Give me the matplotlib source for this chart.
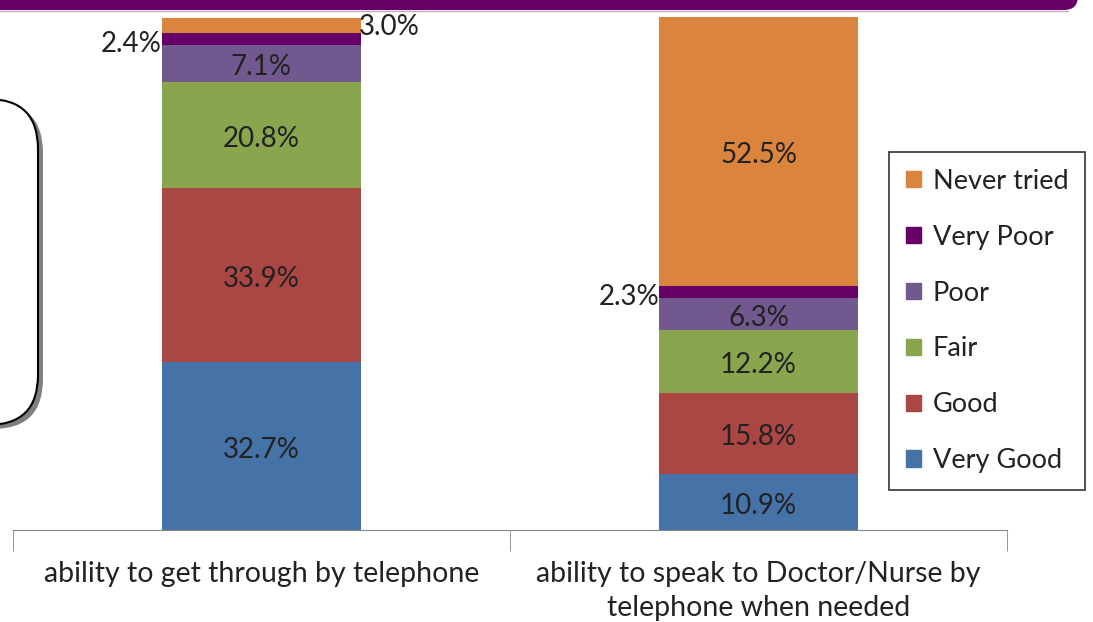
import matplotlib.pyplot as plt
import matplotlib.patches as mpatches
from matplotlib.patches import FancyBboxPatch
import numpy as np

plt.rcParams['font.family'] = ['Lato', 'DejaVu Sans']

categories = ['ability to get through by telephone',
              'ability to speak to Doctor/Nurse by\ntelephone when needed']
series = ['Very Good', 'Good', 'Fair', 'Poor', 'Very Poor', 'Never tried']
values = {
    'Very Good':   [32.7, 10.9],
    'Good':        [33.9, 15.8],
    'Fair':        [20.8, 12.2],
    'Poor':        [7.1, 6.3],
    'Very Poor':   [2.4, 2.3],
    'Never tried': [3.0, 52.5],
}
colors = {
    'Very Good': '#4572A7',
    'Good': '#AA4643',
    'Fair': '#89A54E',
    'Poor': '#71588F',
    'Very Poor': '#660066',
    'Never tried': '#DB843D',
}
txtc = '#222222'

fig = plt.figure(figsize=(10.93, 6.22), dpi=100)

# overlay in pixel units for slide decorations
deco = fig.add_axes([0, 0, 1, 1], zorder=0)
deco.set_xlim(0, 1093)
deco.set_ylim(622, 0)
deco.axis('off')
deco.add_patch(FancyBboxPatch((-30, -40), 1108, 50,
                              boxstyle='round,pad=0,rounding_size=14',
                              facecolor='#660066', edgecolor='none'))
deco.plot([0, 1068], [11, 11], color='#c9a6c9', lw=1)
deco.add_patch(FancyBboxPatch((-117, 103), 160, 326,
                              boxstyle='round,pad=0,rounding_size=50',
                              facecolor='#808080', edgecolor='none'))
deco.add_patch(FancyBboxPatch((-122, 99), 160, 326,
                              boxstyle='round,pad=0,rounding_size=50',
                              facecolor='white', edgecolor='black', lw=1.5))

ax = fig.add_axes([13/1093, 92/622, 994/1093, 513/622], zorder=1)
ax.patch.set_alpha(0)

x = np.arange(len(categories))
width = 0.4
bottom = np.zeros(len(categories))
for s in series:
    v = np.array(values[s])
    ax.bar(x, v, width, bottom=bottom, color=colors[s], label=s, edgecolor='none')
    for i, val in enumerate(v):
        yc = bottom[i] + val / 2
        txt = '%.1f%%' % val
        if val >= 5:
            ax.text(x[i], yc - 0.7, txt, ha='center', va='center', fontsize=20, color=txtc)
        elif s == 'Never tried':
            ax.text(x[i] + width / 2 - 0.005, yc - 0.4, txt, ha='left', va='center',
                    fontsize=20, color=txtc)
        else:
            ax.text(x[i] - width / 2, yc - 0.9, txt, ha='right', va='center',
                    fontsize=20, color=txtc)
    bottom += v

ax.set_xlim(-0.5, 1.5)
ax.set_ylim(0, 100)
ax.set_yticks([])
for sp in ['left', 'right', 'top']:
    ax.spines[sp].set_visible(False)
ax.spines['bottom'].set_color('#868686')
ax.set_xticks(x)
ax.set_xticklabels(categories, fontsize=20.5, linespacing=1.35, color=txtc)
ax.tick_params(axis='x', which='major', length=0, pad=22.5)
ax.set_xticks([-0.5, 0.5, 1.5], minor=True)
ax.tick_params(axis='x', which='minor', length=15, color='#868686')

# legend, top entry first
handles = [mpatches.Patch(color=colors[s]) for s in series[::-1]]
leg = fig.legend(handles, series[::-1], loc='upper left',
                 bbox_to_anchor=(889/1093, 1 - 152/622), fontsize=19.5,
                 frameon=True, fancybox=False, edgecolor='black',
                 handlelength=0.55, handleheight=0.55, handletextpad=0.45,
                 labelspacing=1.14, borderpad=0.62, borderaxespad=0,
                 labelcolor=txtc)
leg.get_frame().set_linewidth(1.2)
leg.set_zorder(5)

fig.savefig('out.png', dpi=100)
